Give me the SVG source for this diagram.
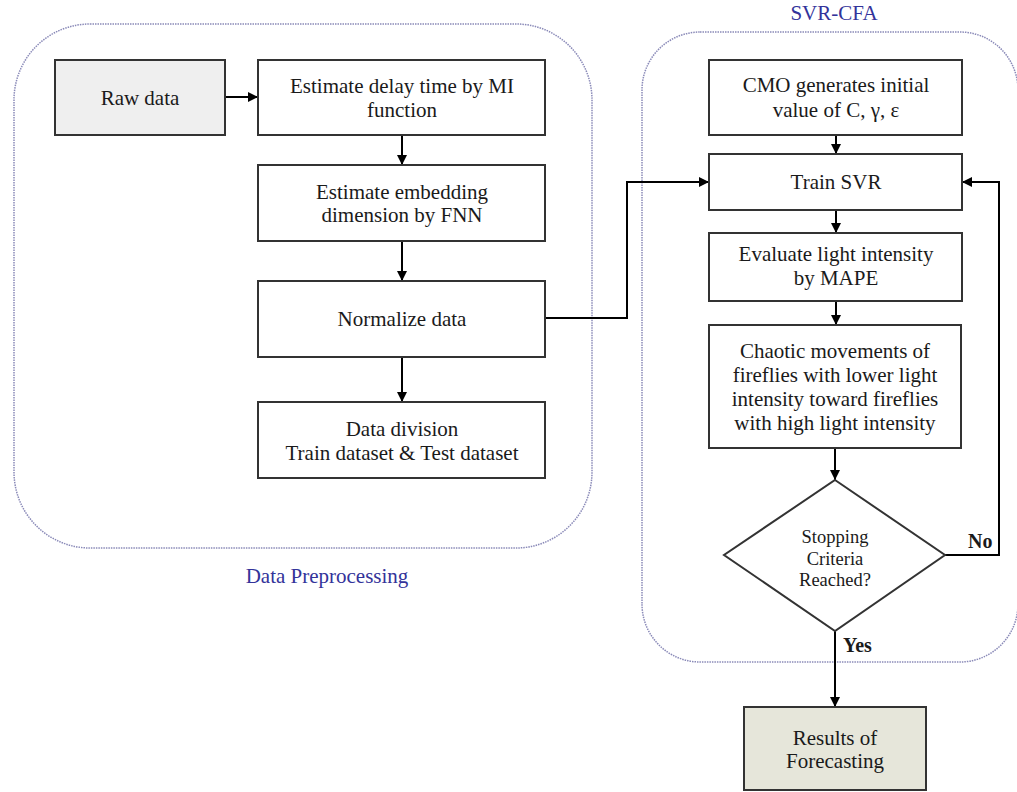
<svg xmlns="http://www.w3.org/2000/svg" width="1017" height="792" viewBox="0 0 1017 792">
<defs>
<style>
.t{font-family:"Liberation Serif","Times New Roman",serif;font-size:21px;fill:#1a1a1a;text-anchor:middle}
.s{font-size:18.5px}
.b{font-weight:bold;font-size:20px;text-anchor:start}
.lbl{font-family:"Liberation Serif","Times New Roman",serif;font-size:21px;fill:#33339a;text-anchor:middle}
.box{fill:#fff;stroke:#333;stroke-width:2}
.grp{fill:none;stroke:#8a8ab8;stroke-width:1.5;stroke-dasharray:1.5 1}
.c{fill:none;stroke:#000;stroke-width:2}
</style>
<marker id="ah" markerWidth="10" markerHeight="10" refX="10" refY="5" orient="auto" markerUnits="userSpaceOnUse">
<path d="M0,0 L10,5 L0,10 Z" fill="#000"/>
</marker>
</defs>
<rect width="1017" height="792" fill="#fff"/>
<g id="containers">
<rect class="grp" x="14" y="24" width="578" height="524" rx="76" ry="76"/>
<rect class="grp" x="642" y="32" width="376" height="630" rx="58" ry="58"/>
<text class="lbl" x="327" y="583">Data Preprocessing</text>
<text class="lbl" x="834" y="20">SVR-CFA</text>
</g>
<g id="connectors">
<line class="c" x1="225" y1="97" x2="258" y2="97" marker-end="url(#ah)"/>
<line class="c" x1="402" y1="135" x2="402" y2="165" marker-end="url(#ah)"/>
<line class="c" x1="402" y1="241" x2="402" y2="281" marker-end="url(#ah)"/>
<line class="c" x1="402" y1="357" x2="402" y2="402" marker-end="url(#ah)"/>
<polyline class="c" points="545,318 627,318 627,182 709,182" marker-end="url(#ah)"/>
<line class="c" x1="836" y1="135" x2="836" y2="154" marker-end="url(#ah)"/>
<line class="c" x1="836" y1="210" x2="836" y2="233" marker-end="url(#ah)"/>
<line class="c" x1="836" y1="301" x2="836" y2="325" marker-end="url(#ah)"/>
<line class="c" x1="835" y1="448" x2="835" y2="480" marker-end="url(#ah)"/>
<polyline class="c" points="945,555 999,555 999,182 962,182" marker-end="url(#ah)"/>
<line class="c" x1="835" y1="631" x2="835" y2="707" marker-end="url(#ah)"/>
<text class="t b" x="968" y="548">No</text>
<text class="t b" x="843" y="652">Yes</text>
</g>
<g id="raw">
<rect class="box" x="55" y="60" width="170" height="75" fill="#efefef" style="fill:#efefef"/>
<text class="t" x="140" y="105">Raw data</text>
</g>
<g id="delay">
<rect class="box" x="258" y="60" width="287" height="75"/>
<text class="t" x="402" y="93">Estimate delay time by MI</text>
<text class="t" x="402" y="117">function</text>
</g>
<g id="embed">
<rect class="box" x="258" y="165" width="287" height="76"/>
<text class="t" x="402" y="199">Estimate embedding</text>
<text class="t" x="402" y="222">dimension by FNN</text>
</g>
<g id="normalize">
<rect class="box" x="258" y="281" width="287" height="76"/>
<text class="t" x="402" y="326">Normalize data</text>
</g>
<g id="division">
<rect class="box" x="258" y="402" width="287" height="76"/>
<text class="t" x="402" y="436">Data division</text>
<text class="t" x="402" y="460">Train dataset &amp; Test dataset</text>
</g>
<g id="cmo">
<rect class="box" x="709" y="60" width="253" height="75"/>
<text class="t" x="836" y="92">CMO generates initial</text>
<text class="t" x="836" y="117">value of C, γ, ε</text>
</g>
<g id="train">
<rect class="box" x="709" y="154" width="253" height="56"/>
<text class="t" x="836" y="189">Train SVR</text>
</g>
<g id="evaluate">
<rect class="box" x="709" y="233" width="253" height="68"/>
<text class="t" x="836" y="261">Evaluate light intensity</text>
<text class="t" x="836" y="285">by MAPE</text>
</g>
<g id="chaotic">
<rect class="box" x="709" y="325" width="252" height="123"/>
<text class="t" x="835" y="358">Chaotic movements of</text>
<text class="t" x="835" y="382">fireflies with lower light</text>
<text class="t" x="835" y="406">intensity toward fireflies</text>
<text class="t" x="835" y="430">with high light intensity</text>
</g>
<g id="decision">
<polygon class="box" points="835,480 945,555 835,631 724,555"/>
<text class="t s" x="835" y="543">Stopping</text>
<text class="t s" x="835" y="565">Criteria</text>
<text class="t s" x="835" y="586">Reached?</text>
</g>
<g id="results">
<rect class="box" x="744" y="707" width="182" height="83" style="fill:#e6e6da"/>
<text class="t" x="835" y="745">Results of</text>
<text class="t" x="835" y="768">Forecasting</text>
</g>
</svg>
